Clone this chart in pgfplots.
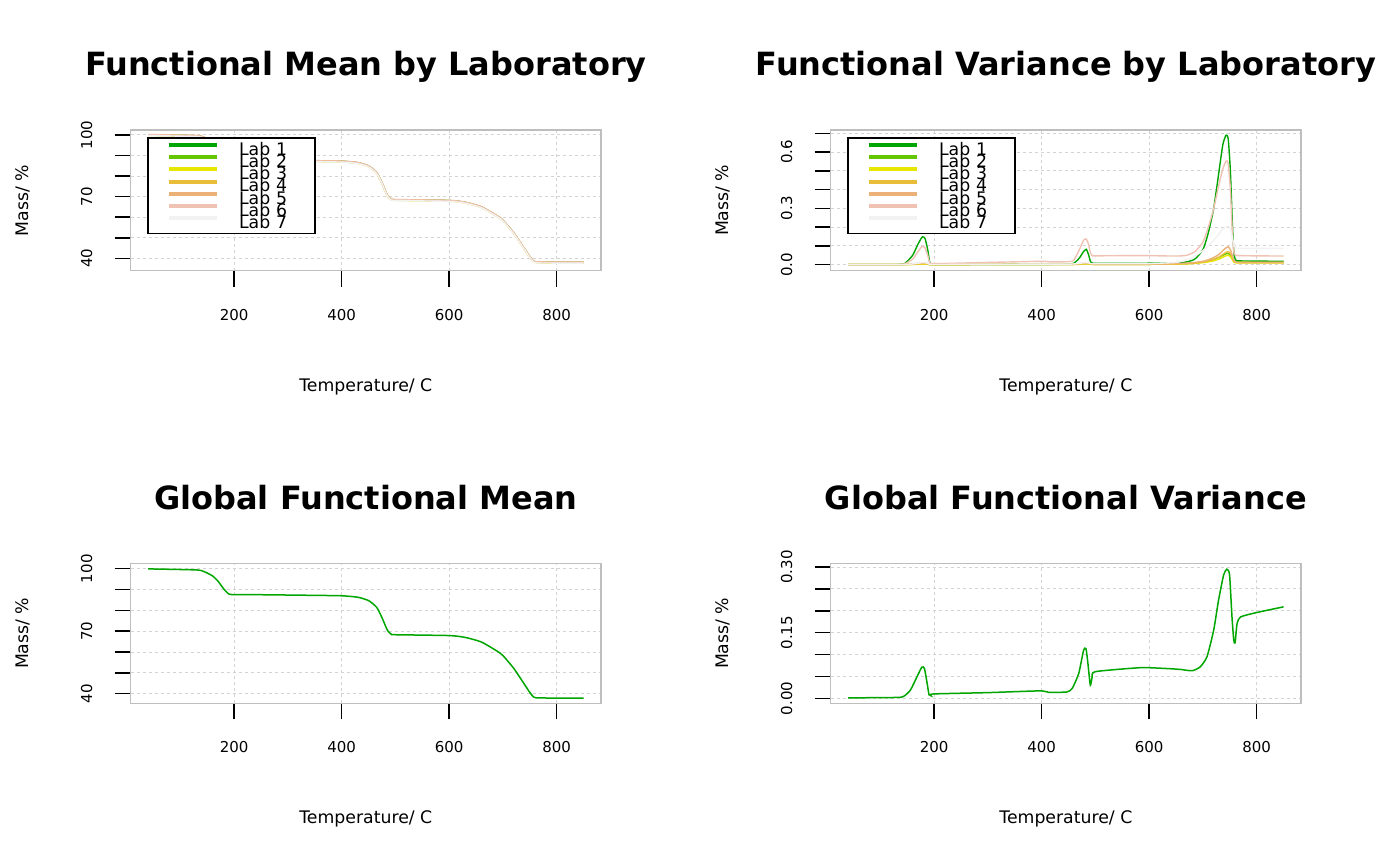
\documentclass[border=0pt]{standalone}
\usepackage{fontspec}
\setmainfont{DejaVu Sans}
\usepackage{pgfplots}
\pgfplotsset{compat=1.18}
\usepackage{pgfplotstable}

\definecolor{labA}{HTML}{00A600}
\definecolor{labB}{HTML}{63C600}
\definecolor{labC}{HTML}{E6E600}
\definecolor{labD}{HTML}{E9BD3A}
\definecolor{labE}{HTML}{ECB176}
\definecolor{labF}{HTML}{EFC2B3}
\definecolor{labG}{HTML}{F2F2F2}
\definecolor{boxgray}{HTML}{BEBEBE}
\definecolor{gridgray}{HTML}{D3D3D3}

\newcommand\tickfont{\fontsize{7.5}{9}\selectfont}
\newcommand\labfont{\fontsize{8.65}{10}\selectfont}
\newcommand\titlefont{\fontsize{16}{18}\selectfont\bfseries}

\pgfplotstableread{
x L1 L2 L3 L4 L5 L6 L7
40 100.1 100.0 99.8 99.9 100.2 100.1 99.7
130 99.6 99.5 99.3 99.4 99.7 99.6 99.2
145 98.7 98.6 98.4 98.5 98.8 98.7 98.3
160 96.7 96.6 96.4 96.5 96.8 96.7 96.3
170 94.2 94.1 93.9 94.0 94.3 94.2 93.8
180 90.7 90.6 90.4 90.5 90.8 90.7 90.3
188 88.5 88.4 88.2 88.3 88.6 88.5 88.1
195 87.8 87.7 87.5 87.6 87.9 87.8 87.4
250 87.7 87.6 87.4 87.5 87.8 87.7 87.3
350 87.4 87.3 87.1 87.2 87.5 87.4 87.0
400 87.2 87.1 86.9 87.0 87.3 87.2 86.8
430 86.5 86.4 86.2 86.3 86.6 86.5 86.1
450 84.9 84.8 84.6 84.7 85.0 84.9 84.5
465 81.7 81.6 81.4 81.5 81.8 81.7 81.3
475 76.7 76.6 76.4 76.5 76.8 76.7 76.3
485 70.7 70.6 70.4 70.5 70.8 70.7 70.3
492 68.8 68.7 68.5 68.6 68.9 68.8 68.4
500 68.5 68.4 68.2 68.3 68.6 68.5 68.1
600 68.1 68.0 67.8 67.9 68.2 68.1 67.7
630 67.2 67.1 66.9 67.0 67.3 67.2 66.8
660 65.0 64.9 64.7 64.8 65.1 65.0 64.6
690 60.5 60.4 60.2 60.3 60.6 60.5 60.1
700 58.5 58.4 58.2 58.3 58.6 58.5 58.1
720 52.4 52.3 52.1 52.2 52.5 52.4 52.0
740 44.7 44.6 44.4 44.5 44.8 44.7 44.3
750 40.8 40.7 40.5 40.6 40.9 40.8 40.4
757 38.6 38.5 38.3 38.4 38.7 38.6 38.2
762 38.2 38.1 37.9 38.0 38.3 38.2 37.8
800 38.1 38.0 37.8 37.9 38.2 38.1 37.7
850 38.1 38.0 37.8 37.9 38.2 38.1 37.7
}\labmean

\pgfplotstableread{
x L1 L2 L3 L4 L5 L6 L7
40 0.000 0.000 0.000 0.000 0.000 0.000 0.000
130 0.001 0.000 0.000 0.000 0.000 0.001 0.000
145 0.006 0.001 0.000 0.001 0.001 0.004 0.001
160 0.050 0.003 0.001 0.002 0.004 0.030 0.004
170 0.110 0.005 0.002 0.004 0.007 0.070 0.008
178 0.148 0.006 0.003 0.005 0.010 0.098 0.011
183 0.140 0.006 0.003 0.005 0.010 0.090 0.011
188 0.080 0.004 0.002 0.003 0.006 0.050 0.007
192 0.010 0.001 0.001 0.001 0.002 0.008 0.002
196 0.002 0.000 0.000 0.000 0.001 0.005 0.001
200 0.001 0.000 0.000 0.000 0.001 0.005 0.001
300 0.001 0.001 0.001 0.001 0.002 0.012 0.002
400 0.002 0.001 0.001 0.001 0.002 0.018 0.003
415 0.002 0.001 0.001 0.001 0.002 0.015 0.003
450 0.003 0.001 0.001 0.001 0.002 0.016 0.003
460 0.008 0.002 0.001 0.002 0.003 0.025 0.004
470 0.035 0.004 0.002 0.003 0.006 0.080 0.007
478 0.070 0.006 0.004 0.005 0.009 0.130 0.010
483 0.082 0.007 0.004 0.006 0.010 0.137 0.011
487 0.055 0.005 0.003 0.004 0.008 0.110 0.009
491 0.015 0.003 0.002 0.003 0.005 0.060 0.006
495 0.008 0.002 0.002 0.002 0.004 0.047 0.005
500 0.007 0.002 0.002 0.002 0.004 0.047 0.005
550 0.007 0.002 0.002 0.002 0.004 0.048 0.005
600 0.008 0.002 0.002 0.002 0.004 0.048 0.006
650 0.010 0.004 0.003 0.004 0.005 0.046 0.012
670 0.015 0.006 0.004 0.006 0.008 0.050 0.025
685 0.030 0.009 0.007 0.009 0.012 0.070 0.045
700 0.080 0.014 0.011 0.014 0.018 0.120 0.075
710 0.170 0.020 0.015 0.020 0.026 0.200 0.100
720 0.300 0.028 0.021 0.028 0.038 0.300 0.130
730 0.500 0.040 0.030 0.040 0.055 0.430 0.165
737 0.640 0.050 0.040 0.055 0.075 0.510 0.190
743 0.690 0.058 0.048 0.066 0.090 0.552 0.203
747 0.670 0.060 0.050 0.070 0.095 0.540 0.205
751 0.500 0.050 0.043 0.060 0.080 0.400 0.190
755 0.200 0.030 0.025 0.035 0.045 0.150 0.140
758 0.050 0.018 0.012 0.018 0.020 0.060 0.100
762 0.022 0.015 0.010 0.012 0.013 0.050 0.088
770 0.020 0.014 0.010 0.011 0.012 0.048 0.087
800 0.019 0.013 0.010 0.011 0.012 0.047 0.087
850 0.018 0.013 0.010 0.011 0.012 0.046 0.087
}\labvar

\pgfplotstableread{
x G
40 99.9
130 99.4
145 98.5
160 96.5
170 94.0
180 90.5
188 88.3
195 87.6
250 87.5
350 87.2
400 87.0
430 86.3
450 84.7
465 81.5
475 76.5
485 70.5
492 68.6
500 68.3
600 67.9
630 67.0
660 64.8
690 60.3
700 58.3
720 52.2
740 44.5
750 40.6
757 38.4
762 38.0
800 37.9
850 37.9
}\gmean

\pgfplotstableread{
x G
40 0.001
131 0.002
144 0.005
156 0.019
168 0.049
177 0.071
182 0.068
187 0.034
190.5 0.008
194 0.006
199 0.010
300 0.013
397 0.017
413 0.0137
447 0.0145
457 0.023
469 0.057
478 0.110
482.5 0.113
486 0.080
490.5 0.030
494 0.049
500 0.061
584 0.070
633 0.068
658 0.066
680 0.063
695 0.072
707.5 0.095
720 0.156
729 0.224
738.5 0.282
744.5 0.295
749.5 0.282
754 0.186
757.3 0.133
759.8 0.127
763.5 0.171
770 0.186
800 0.196
850 0.209
}\gvar

\pgfplotsset{
  rpanel/.style={
    scale only axis, width=235.15pt,
    xmin=7.6, xmax=882.4,
    xtick={200,400,600,800},
    axis line style={draw=boxgray, line width=0.75pt},
    tick align=outside, major tick length=8pt,
    tick style={black, line width=0.75pt},
    xtick pos=bottom, ytick pos=left,
    grid=major,
    grid style={draw=gridgray, line width=0.5pt, dash pattern=on 1.5pt off 1.5pt},
    /pgf/number format/assume math mode=true,
    xticklabel shift=11pt, yticklabel shift=11pt,
    xticklabel style={font=\tickfont, inner sep=0pt, anchor=north},
    yticklabel style={font=\tickfont, rotate=90, anchor=south, inner sep=0pt},
    xlabel={Temperature/ C}, ylabel={Mass/ \%},
    xlabel style={font=\labfont, at={(axis description cs:0.5,-0.86)}, anchor=base},
    ylabel style={font=\labfont, at={(axis description cs:-0.2296,0.5)}, anchor=center},
    title style={font=\titlefont, at={(axis description cs:0.5,1)}, anchor=base, yshift=21pt},
  },
  rlegend/.style={
    legend style={at={(axis description cs:0.0353,0.948)}, anchor=north west,
      draw=black, line width=0.75pt, inner xsep=0pt, inner ysep=2.5pt,
      row sep=0pt, column sep=0pt,
      nodes={inner sep=0pt, text height=5.2pt, text depth=0pt, text width=37.85pt,
        align=left, font=\labfont}},
    legend cell align=left,
    legend image code/.code={
      \path[draw=none] (0pt,0pt) -- (45.5pt,0pt);
      \draw[##1, line width=2pt] (10.5pt,2.5pt) -- (34.35pt,2.5pt);},
    legend entries={Lab 1,Lab 2,Lab 3,Lab 4,Lab 5,Lab 6,Lab 7},
  },
  labline/.style={line width=0.7pt, smooth, tension=0.35},
}

\begin{document}
\begin{tikzpicture}
\useasboundingbox (0,0) rectangle (700pt,433pt);
\fill[white] (0,0) rectangle (700pt,433pt);

% Top left
\begin{axis}[rpanel, rlegend, at={(65.35pt,297.65pt)}, anchor=south west,
  height=70.35pt, ymin=34.0, ymax=102.4,
  ytick={40,50,60,70,80,90,100}, yticklabels={40,,,70,,,100},
  title={Functional Mean by Laboratory}]
\addplot[labline, labA] table[x=x,y=L1] {\labmean};
\addplot[labline, labB] table[x=x,y=L2] {\labmean};
\addplot[labline, labC] table[x=x,y=L3] {\labmean};
\addplot[labline, labD] table[x=x,y=L4] {\labmean};
\addplot[labline, labE] table[x=x,y=L5] {\labmean};
\addplot[labline, labF] table[x=x,y=L6] {\labmean};
\addplot[labline, labG] table[x=x,y=L7] {\labmean};
\end{axis}

% Top right
\begin{axis}[rpanel, rlegend, at={(415.35pt,297.65pt)}, anchor=south west,
  height=70.35pt, ymin=-0.032, ymax=0.7176,
  ytick={0,0.1,0.2,0.3,0.4,0.5,0.6,0.7}, yticklabels={0.0,,,0.3,,,0.6,},
  title={Functional Variance by Laboratory}]
\addplot[labline, labA] table[x=x,y=L1] {\labvar};
\addplot[labline, labB] table[x=x,y=L2] {\labvar};
\addplot[labline, labC] table[x=x,y=L3] {\labvar};
\addplot[labline, labD] table[x=x,y=L4] {\labvar};
\addplot[labline, labE] table[x=x,y=L5] {\labvar};
\addplot[labline, labF] table[x=x,y=L6] {\labvar};
\addplot[labline, labG] table[x=x,y=L7] {\labvar};
\end{axis}

% Bottom left
\begin{axis}[rpanel, at={(65.35pt,81.35pt)}, anchor=south west,
  height=70pt, ymin=35.39, ymax=102.59,
  ytick={40,50,60,70,80,90,100}, yticklabels={40,,,70,,,100},
  title={Global Functional Mean}]
\addplot[labA, line width=0.75pt, smooth, tension=0.35] table[x=x,y=G] {\gmean};
\end{axis}

% Bottom right
\begin{axis}[rpanel, at={(415.35pt,81.35pt)}, anchor=south west,
  height=70pt, ymin=-0.0114, ymax=0.3085,
  ytick={0,0.05,0.1,0.15,0.2,0.25,0.3}, yticklabels={0.00,,,0.15,,,0.30},
  title={Global Functional Variance}]
\addplot[labA, line width=0.75pt, smooth, tension=0.35] table[x=x,y=G] {\gvar};
\end{axis}
\end{tikzpicture}
\end{document}
